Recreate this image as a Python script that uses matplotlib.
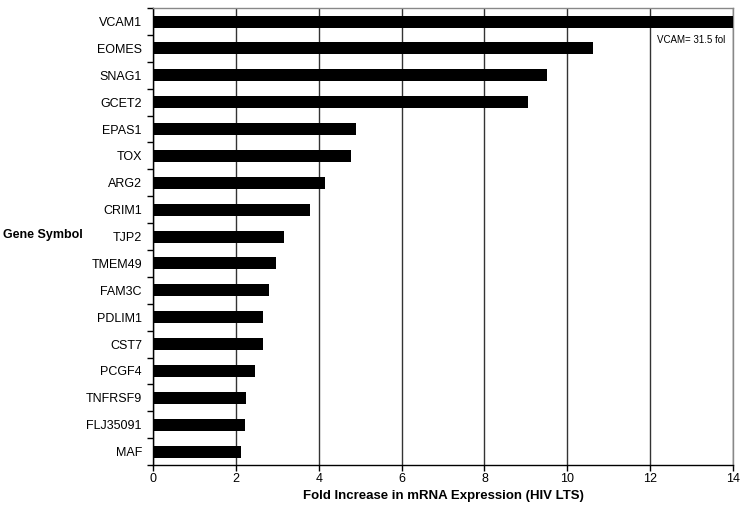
import numpy as np
import matplotlib.pyplot as plt

# gene symbols, top to bottom
genes = ["VCAM1", "EOMES", "SNAG1", "GCET2", "EPAS1", "TOX", "ARG2", "CRIM1",
         "TJP2", "TMEM49", "FAM3C", "PDLIM1", "CST7", "PCGF4", "TNFRSF9",
         "FLJ35091", "MAF"]
# fold increase (VCAM1 runs off the axis)
fold = [31.5, 10.62, 9.51, 9.05, 4.89, 4.78, 4.16, 3.80,
        3.15, 2.98, 2.80, 2.66, 2.66, 2.47, 2.25, 2.23, 2.12]
xticks = [0, 2, 4, 6, 8, 10, 12, 14]

plt.rcParams['font.family'] = ['Liberation Sans', 'DejaVu Sans']

fig = plt.figure(figsize=(7.45, 5.07), dpi=100)
ax = fig.add_axes([0.2054, 0.0828, 0.7785, 0.9012])

ypos = np.arange(len(genes))
ax.barh(ypos, fold, height=0.45, color='black', zorder=3)

ax.set_xlim(0, 14)
ax.set_ylim(len(genes) - 0.5, -0.5)
ax.set_xticks(xticks)
ax.set_xticklabels([str(t) for t in xticks], fontsize=9)
ax.set_yticks(ypos)
ax.set_yticklabels(genes, fontsize=9)
ax.set_yticks(np.arange(-0.5, len(genes), 1), minor=True)
ax.tick_params(axis='y', which='major', length=0, pad=8)
ax.tick_params(axis='y', which='minor', length=4, width=1, direction='out')
ax.tick_params(axis='x', length=4, width=1, direction='out', pad=2)

ax.grid(axis='x', color='#333333', linewidth=1, zorder=0)
for s in ['top', 'right']:
    ax.spines[s].set_color('#888888')
    ax.spines[s].set_linewidth(1)
ax.spines['left'].set_linewidth(1)
ax.spines['bottom'].set_linewidth(1)

ax.text(12.17, 0.7, "VCAM= 31.5 fol", fontsize=7, va='center', ha='left',
        clip_on=True, zorder=4)

ax.set_xlabel("Fold Increase in mRNA Expression (HIV LTS)", fontsize=9.5,
              fontweight='bold', labelpad=3)
fig.text(0.004, 1 - 235 / 507, "Gene Symbol", fontsize=9, fontweight='bold',
         va='center', ha='left')

fig.savefig("out.png", dpi=100)
